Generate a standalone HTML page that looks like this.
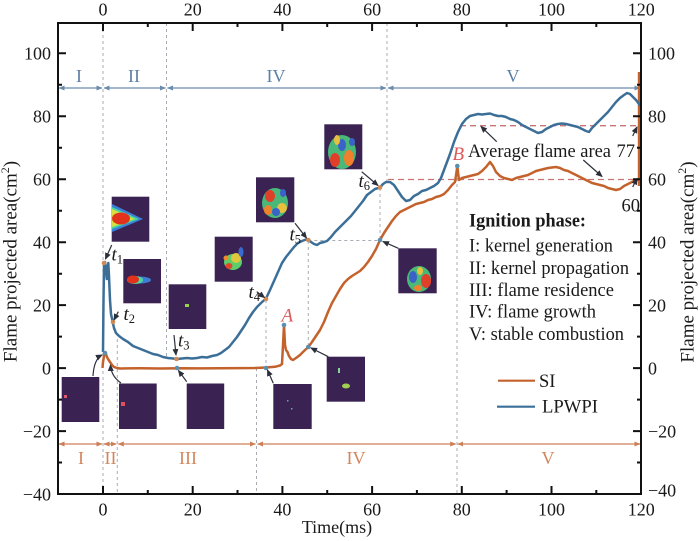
<!DOCTYPE html>
<html><head><meta charset="utf-8"><style>
html,body{margin:0;padding:0;background:#fff;}
svg{display:block;}
text{font-family:"Liberation Serif",serif;fill:#1a1a1a;}
</style></head><body>
<svg width="700" height="541" viewBox="0 0 700 541" xmlns="http://www.w3.org/2000/svg">
<defs>
<marker id="mb" markerWidth="6" markerHeight="6" refX="5.5" refY="3" orient="auto-start-reverse" markerUnits="userSpaceOnUse"><path d="M0,0.5 L6,3 L0,5.5 z" fill="#6a8cac"/></marker>
<marker id="mo" markerWidth="6" markerHeight="6" refX="5.5" refY="3" orient="auto-start-reverse" markerUnits="userSpaceOnUse"><path d="M0,0.5 L6,3 L0,5.5 z" fill="#cd7f57"/></marker>
<marker id="mk" markerWidth="7" markerHeight="7" refX="6" refY="3.5" orient="auto" markerUnits="userSpaceOnUse"><path d="M0,0.5 L7,3.5 L0,6.5 z" fill="#2b2f3a"/></marker>
</defs>
<rect width="700" height="541" fill="#fff"/>

<!-- grey dashed guide lines -->
<g stroke="#a9adb3" stroke-width="1" stroke-dasharray="3,3" fill="none">
<line x1="103" y1="23" x2="103" y2="494"/>
<line x1="166.5" y1="23" x2="166.5" y2="358"/>
<line x1="117.3" y1="333" x2="117.3" y2="494"/>
<line x1="256.5" y1="368" x2="256.5" y2="494"/>
<line x1="266" y1="300" x2="266" y2="368"/>
<line x1="308.3" y1="241" x2="308.3" y2="347"/>
<line x1="308.3" y1="240.5" x2="380" y2="240.5"/>
<line x1="380" y1="188" x2="380" y2="240"/>
<line x1="387" y1="23" x2="387" y2="181"/>
<line x1="457" y1="166" x2="457" y2="494"/>
</g>
<!-- red dashed average lines -->
<g stroke="#c97474" stroke-width="1.3" stroke-dasharray="6,4" fill="none">
<line x1="460" y1="125.7" x2="640" y2="125.7"/>
<line x1="388" y1="179.5" x2="640" y2="179.5"/>
</g>

<!-- phase arrows top -->
<g stroke="#6a8cac" stroke-width="1.3" marker-start="url(#mb)" marker-end="url(#mb)">
<line x1="59" y1="88" x2="102" y2="88"/>
<line x1="104" y1="88" x2="165.5" y2="88"/>
<line x1="167.5" y1="88" x2="386" y2="88"/>
<line x1="388" y1="88" x2="640" y2="88"/>
</g>
<g font-size="18" text-anchor="middle">
<text x="79" y="82" style="fill:#5d80a6">I</text>
<text x="134" y="82" style="fill:#5d80a6">II</text>
<text x="276" y="82" style="fill:#5d80a6">IV</text>
<text x="513" y="82" style="fill:#5d80a6">V</text>
</g>
<!-- phase arrows bottom -->
<g stroke="#cd7f57" stroke-width="1.3" marker-start="url(#mo)" marker-end="url(#mo)">
<line x1="59" y1="444" x2="102" y2="444"/>
<line x1="104" y1="444" x2="116.3" y2="444"/>
<line x1="118.3" y1="444" x2="255.5" y2="444"/>
<line x1="257.5" y1="444" x2="455.7" y2="444"/>
<line x1="457.7" y1="444" x2="640" y2="444"/>
</g>
<g font-size="18" text-anchor="middle">
<text x="81" y="464" style="fill:#d3865c">I</text>
<text x="110.5" y="464" style="fill:#d3865c">II</text>
<text x="188" y="464" style="fill:#d3865c">III</text>
<text x="356" y="464" style="fill:#d3865c">IV</text>
<text x="548" y="464" style="fill:#d3865c">V</text>
</g>

<!-- SI curve -->
<polyline fill="none" stroke="#c4622c" stroke-width="2.5" stroke-linejoin="round" points="102.5,368 103,362 104,356 105,353 106,354 107,357 108,359 110,362 112,365 114,367 117,368 120,368.5 140,368.3 160,368.5 180,368.2 200,368.4 220,368.3 240,368.1 255,368 266,367.5 275,366.8 280,365.5 282,364 283,345 284,325 285,345 286,350 287.5,352 289,356 291,359 293,360 296,358 300,355 304,351 308.3,347 312,342 316,336 320,330 324,322 328,312 332,303 336,296 340,289 344,283 348,279 352,276 356,273.5 360,271 364,267 368,262 372,256 376,249 380,240 384,233 388,227 392,221 396,216 400,212 404,210 408,208 412,206 416,204 420,203 424,202 428,200 432,199 436,197 440,196 444,194 448,190 452,185 455,182 456.5,172 457.3,166 458,172 459,180 462,178 466,177 470,176 474,175 478,174 482,171 486,167 490,162 493,166 496,172 500,176 504,178 508,179 512,180 516,178 520,177 524,176 528,175 532,173 536,171 540,170 544,169 548,168 552,167.5 556,167 560,168 564,170 568,171 572,173 576,175 580,177 584,179 588,181 592,183 596,184 600,185 604,186 608,188 612,189 616,190 620,189 624,186 628,184 632,182 636,180 638.5,180"/>
<rect x="637.8" y="72" width="3" height="114" fill="#c4622c"/>

<!-- LPWPI curve -->
<polyline fill="none" stroke="#3c6f98" stroke-width="2.5" stroke-linejoin="round" points="103,352 103.5,300 104,266 105,262 106,271 106.8,279 107.5,267 108.3,263 109,276 110,300 111,314 112.7,322 114,328 116,333 119,336 123,339 128,342 133,346 138,348 143,350 148,352 153,354 158,355 163,357 168,358 173,358.5 177,359 182,358.5 187,358 192,358.5 197,358 202,357 207,357.5 212,356 217,355 221,353 225,350 229,347 233,342 237,337 241,331 245,325 249,318 253,312 257,307 261,303 266,298.5 270,290 274,281 278,272 282,263 286,257 290,252 294,247 298,243 302,241 306,239.5 308.3,240 311,242 314,244 317,245 320,243 324,242 327,241 331,237 335,232 339,228 343,224 347,220 351,216 355,211 359,206 363,201 367,195 371,192 375,189 380,187.5 383,184 386,182 390,182 394,185 398,191 402,197 406,201 410,200 414,196 418,194 422,191 426,190 430,188 434,186 438,183 441,178 444,170 447,162 450,154 454,142 458,132 462,124 466,119 470,116 474,115 478,114 482,114.5 486,114 490,113.5 494,115 498,116 502,116 506,117 510,119 514,120 518,122 522,125 526,127 530,129 534,131 538,133 542,132 546,129 550,127 554,125 558,124 562,123.5 566,124 570,125 574,126 578,127 582,129 586,131 589,132 592,128 596,124 600,120 604,116 608,112 612,107 616,102 620,98 624,95 627,93 630,94 633,97 636,100 639,104 640,106"/>

<!-- markers -->
<g fill="#d08a55">
<circle cx="104" cy="263" r="2.3"/><circle cx="113" cy="322" r="2.3"/><circle cx="176.5" cy="359" r="2.3"/>
<circle cx="266" cy="299" r="2.3"/><circle cx="308.3" cy="240" r="2.3"/><circle cx="380" cy="187.5" r="2.3"/>
</g>
<g fill="#5a8fb0">
<circle cx="105" cy="353" r="2.3"/><circle cx="177" cy="368" r="2.3"/><circle cx="266" cy="368" r="2.3"/>
<circle cx="284" cy="325" r="2.3"/><circle cx="308.3" cy="347" r="2.3"/><circle cx="380" cy="240" r="2.3"/>
<circle cx="457.3" cy="166" r="2.3"/>
</g>

<!-- flame images -->
<g fill="#3a2352">
<rect x="111.7" y="196.7" width="37.6" height="45"/>
<rect x="123.3" y="259" width="37.7" height="44.3"/>
<rect x="168.7" y="284.3" width="37.6" height="44.7"/>
<rect x="214.7" y="236.7" width="38" height="45"/>
<rect x="256" y="177.3" width="38.3" height="45"/>
<rect x="324.3" y="124.3" width="38" height="45"/>
<rect x="398.3" y="248.3" width="38.4" height="45"/>
<rect x="326.7" y="356.7" width="38.3" height="45"/>
<rect x="273.3" y="384" width="38.4" height="45"/>
<rect x="61.7" y="377" width="37.6" height="45"/>
<rect x="119" y="383.5" width="37.7" height="45.5"/>
<rect x="186.7" y="383.5" width="37.5" height="45.5"/>
</g>
<!-- t1 -->
<polygon points="112,204 143,219 112,232" fill="#3d7fd8"/>
<polygon points="112,207 139,219 112,229" fill="#46d8a0"/>
<polygon points="112,209 135,219 112,227" fill="#d8e040"/>
<ellipse cx="121" cy="218.5" rx="9" ry="6" fill="#e2321e"/>
<!-- t2 -->
<ellipse cx="139" cy="280" rx="12" ry="3.5" fill="#3d7fd8"/>
<ellipse cx="135" cy="280" rx="8" ry="4" fill="#4fd89a"/>
<ellipse cx="133" cy="279.5" rx="6" ry="4" fill="#e2321e"/>
<!-- t3 -->
<rect x="185" y="304" width="4" height="3" fill="#9ad04a"/>
<!-- t4 -->
<ellipse cx="233" cy="262" rx="9" ry="8" fill="#5ccf6a"/>
<ellipse cx="236" cy="258" rx="5" ry="5" fill="#e0c83c"/>
<ellipse cx="229" cy="266" rx="3.5" ry="3" fill="#e0482a"/>
<ellipse cx="241" cy="252" rx="2.5" ry="5" fill="#3a6ad0"/>
<ellipse cx="226" cy="258" rx="2.5" ry="2.5" fill="#f08a30"/>
<!-- t5 -->
<ellipse cx="275" cy="203" rx="13" ry="15" fill="#4ab878"/>
<ellipse cx="270" cy="196" rx="5" ry="6" fill="#e0402a"/>
<ellipse cx="282" cy="208" rx="5" ry="5" fill="#e8c040"/>
<ellipse cx="276" cy="212" rx="4" ry="4" fill="#3a62c8"/>
<ellipse cx="268" cy="210" rx="4" ry="5" fill="#f0802c"/>
<ellipse cx="283" cy="193" rx="3" ry="4" fill="#3a62c8"/>
<!-- t6 -->
<ellipse cx="342" cy="152" rx="14" ry="17" fill="#4ab878"/>
<ellipse cx="335" cy="160" rx="5" ry="7" fill="#e0402a"/>
<ellipse cx="349" cy="158" rx="5" ry="8" fill="#f0802c"/>
<ellipse cx="342" cy="145" rx="4" ry="6" fill="#3a62c8"/>
<ellipse cx="337" cy="140" rx="3" ry="5" fill="#e8c040"/>
<ellipse cx="352" cy="142" rx="3" ry="4" fill="#3a62c8"/>
<!-- image right of t6 -->
<ellipse cx="419" cy="279" rx="12" ry="13" fill="#4ab878"/>
<ellipse cx="426" cy="281" rx="5" ry="7" fill="#e0402a"/>
<ellipse cx="413" cy="277" rx="4" ry="6" fill="#3a62c8"/>
<ellipse cx="420" cy="271" rx="3" ry="4" fill="#e8c040"/>
<ellipse cx="418" cy="288" rx="4" ry="3" fill="#f0802c"/>
<!-- sparse images -->
<rect x="338" y="368" width="2" height="5" fill="#8ad0a0"/>
<ellipse cx="346" cy="386" rx="4" ry="2.5" fill="#a0d050"/>
<rect x="287" y="400" width="1.5" height="1.5" fill="#6aa0c0"/>
<rect x="291" y="408" width="1.5" height="1.5" fill="#6aa0c0"/>
<rect x="64" y="395" width="3" height="3" fill="#e05a6a"/>
<rect x="121" y="402" width="4" height="4" fill="#e0505a"/>

<!-- annotation arrows -->
<g stroke="#2b2f3a" stroke-width="1.2" fill="none" marker-end="url(#mk)">
<line x1="111.7" y1="245" x2="105.5" y2="259"/>
<line x1="118.3" y1="311.7" x2="114" y2="320"/>
<line x1="174" y1="335" x2="176" y2="355"/>
<path d="M93,376 Q94,359 102,355"/>
<path d="M121,383 Q111,376 110.5,365"/>
<line x1="186.7" y1="381.7" x2="178.5" y2="370.5"/>
<line x1="256.7" y1="291.7" x2="264.5" y2="297.5"/>
<line x1="273.3" y1="383.3" x2="267.5" y2="370"/>
<line x1="295" y1="223.3" x2="306.5" y2="238"/>
<line x1="328.3" y1="356.7" x2="311" y2="348"/>
<line x1="361.7" y1="171.7" x2="378" y2="185.5"/>
<line x1="398.3" y1="248.3" x2="383" y2="241.5"/>
<line x1="496.7" y1="141.7" x2="481" y2="126.5"/>
<line x1="583.3" y1="160" x2="602" y2="176.5"/>
<line x1="632.7" y1="136" x2="637" y2="127"/>
<line x1="632.7" y1="187" x2="637" y2="178.5"/>
</g>

<!-- t labels -->
<g font-size="19" font-style="italic">
<text x="111.5" y="260.5">t<tspan font-size="12.5" font-style="normal" dy="3">1</tspan></text>
<text x="123.5" y="320">t<tspan font-size="12.5" font-style="normal" dy="3">2</tspan></text>
<text x="178" y="346.5">t<tspan font-size="12.5" font-style="normal" dy="3">3</tspan></text>
<text x="248.5" y="298">t<tspan font-size="12.5" font-style="normal" dy="3">4</tspan></text>
<text x="289.5" y="240.5">t<tspan font-size="12.5" font-style="normal" dy="3">5</tspan></text>
<text x="358.5" y="187">t<tspan font-size="12.5" font-style="normal" dy="3">6</tspan></text>
<text x="281.5" y="321.5" style="fill:#de5a5a">A</text>
<text x="452.5" y="160" style="fill:#de5a5a">B</text>
</g>

<!-- average area text -->
<g font-size="18.5">
<text x="468" y="157" textLength="143" lengthAdjust="spacingAndGlyphs">Average flame area</text>
<text x="616.5" y="157">77</text>
<text x="621.5" y="211.5">60</text>
</g>

<!-- legend text -->
<text x="469" y="226.7" font-size="18.5" font-weight="bold" textLength="117" lengthAdjust="spacingAndGlyphs">Ignition phase:</text>
<g font-size="18.5">
<text x="469" y="251.7" textLength="144" lengthAdjust="spacingAndGlyphs">I: kernel generation</text>
<text x="469" y="274" textLength="160" lengthAdjust="spacingAndGlyphs">II: kernel propagation</text>
<text x="469" y="296" textLength="145" lengthAdjust="spacingAndGlyphs">III: flame residence</text>
<text x="469" y="317.7" textLength="127" lengthAdjust="spacingAndGlyphs">IV: flame growth</text>
<text x="469" y="340" textLength="155" lengthAdjust="spacingAndGlyphs">V: stable combustion</text>
<text x="539" y="387">SI</text>
<text x="542" y="412.5" textLength="56" lengthAdjust="spacingAndGlyphs">LPWPI</text>
</g>
<line x1="498" y1="380.7" x2="535" y2="380.7" stroke="#c4622c" stroke-width="2.2"/>
<line x1="497" y1="406.7" x2="535" y2="406.7" stroke="#3c6f98" stroke-width="2.2"/>

<!-- axes frame -->
<rect x="58" y="23" width="583" height="471" fill="none" stroke="#111" stroke-width="2"/>
<g stroke="#111" stroke-width="2">
<path d="M103,23v8 M192.7,23v8 M282.4,23v8 M372.1,23v8 M461.8,23v8 M551.5,23v8"/>
<path d="M103,494v-8 M192.7,494v-8 M282.4,494v-8 M372.1,494v-8 M461.8,494v-8 M551.5,494v-8"/>
<path d="M147.8,23v4 M237.5,23v4 M327.2,23v4 M416.9,23v4 M506.6,23v4 M596.3,23v4"/>
<path d="M147.8,494v-4 M237.5,494v-4 M327.2,494v-4 M416.9,494v-4 M506.6,494v-4 M596.3,494v-4"/>
<path d="M58,53.3h8 M58,116.3h8 M58,179.2h8 M58,242.2h8 M58,305.1h8 M58,368.1h8 M58,431.1h8"/>
<path d="M58,84.8h4 M58,147.7h4 M58,210.7h4 M58,273.7h4 M58,336.6h4 M58,399.6h4 M58,462.5h4"/>
<path d="M641,53.3h-8 M641,116.3h-8 M641,179.2h-8 M641,242.2h-8 M641,305.1h-8 M641,368.1h-8 M641,431.1h-8"/>
<path d="M641,84.8h-4 M641,147.7h-4 M641,210.7h-4 M641,273.7h-4 M641,336.6h-4 M641,399.6h-4 M641,462.5h-4"/>
</g>

<!-- tick labels -->
<g font-size="18" text-anchor="middle">
<text x="103" y="15.5">0</text><text x="192.7" y="15.5">20</text><text x="282.4" y="15.5">40</text>
<text x="372.1" y="15.5">60</text><text x="461.8" y="15.5">80</text><text x="551.5" y="15.5">100</text><text x="641.2" y="15.5">120</text>
<text x="103" y="515.5">0</text><text x="192.7" y="515.5">20</text><text x="282.4" y="515.5">40</text>
<text x="372.1" y="515.5">60</text><text x="461.8" y="515.5">80</text><text x="551.5" y="515.5">100</text><text x="641.2" y="515.5">120</text>
</g>
<g font-size="18" text-anchor="end">
<text x="51" y="59.5">100</text><text x="51" y="122.5">80</text><text x="51" y="185.5">60</text>
<text x="51" y="248.5">40</text><text x="51" y="311.5">20</text><text x="51" y="374.5">0</text>
<text x="51" y="437.5">−20</text><text x="51" y="500.5">−40</text>
</g>
<g font-size="18" text-anchor="start">
<text x="648" y="59.5">100</text><text x="648" y="122.5">80</text><text x="648" y="185.5">60</text>
<text x="648" y="248.5">40</text><text x="648" y="311.5">20</text><text x="648" y="374.5">0</text>
<text x="648" y="437.5">−20</text><text x="648" y="496.5">−40</text>
</g>
<text x="337" y="533" font-size="18" text-anchor="middle">Time(ms)</text>
<text transform="translate(16.5,261.5) rotate(-90)" font-size="19" text-anchor="middle">Flame projected area(cm<tspan font-size="12" dy="-7.5">2</tspan><tspan dy="7.5">)</tspan></text>
<text transform="translate(693.5,262) rotate(-90)" font-size="19" text-anchor="middle">Flame projected area(cm<tspan font-size="12" dy="-7.5">2</tspan><tspan dy="7.5">)</tspan></text>
</svg>
</body></html>
